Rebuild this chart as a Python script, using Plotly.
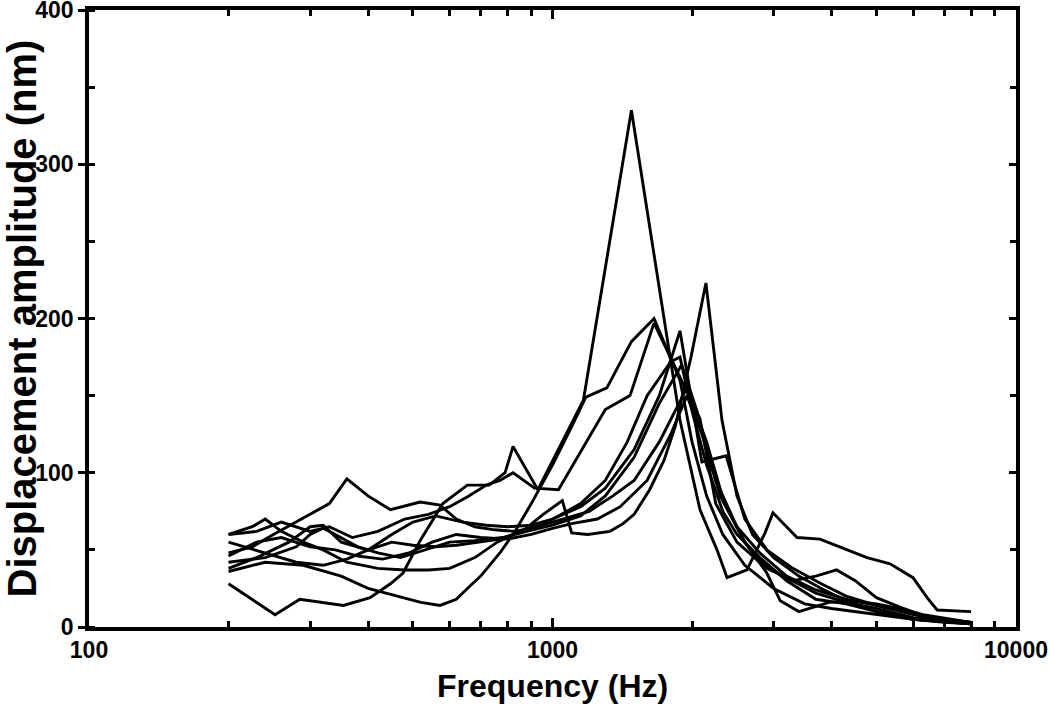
import plotly.graph_objects as go

f1 = [200, 252, 285, 354, 404, 447, 476, 518, 580, 655, 730, 790, 822, 930, 1166, 1480, 1884, 2081, 2264, 2380, 2628, 2874, 2990, 3370, 3776, 4174, 4770, 5349, 5995, 6430, 6760, 8000]
a1 = [28, 8, 18, 14, 19, 28, 35, 56, 80, 92, 92, 100, 117, 89, 147, 335, 134, 76, 50, 32, 37, 61, 74, 58, 57, 52, 45, 41, 32, 19, 11, 10]

f2 = [200, 230, 270, 300, 320, 350, 400, 450, 500, 560, 620, 700, 770, 860, 955, 1050, 1100, 1190, 1330, 1420, 1500, 1620, 1740, 1840, 1990, 2143, 2321, 2500, 2700, 3000, 3400, 3800, 4300, 5000, 6000, 7000, 8000]
a2 = [38, 45, 55, 65, 66, 55, 50, 55, 53, 52, 53, 55, 57, 62, 73, 82, 61, 60, 62, 67, 73, 89, 108, 130, 175, 223, 134, 85, 60, 45, 33, 25, 17, 10, 5, 3, 2]

f3 = [200, 240, 290, 350, 400, 460, 520, 572, 620, 655, 700, 770, 830, 900, 1000, 1100, 1180, 1310, 1480, 1656, 1884, 2000, 2150, 2330, 2600, 3000, 3500, 4000, 5000, 6000, 8000]
a3 = [36, 42, 40, 33, 25, 20, 16, 14, 18, 25, 33, 48, 62, 80, 105, 130, 149, 155, 185, 200, 160, 120, 85, 60, 40, 25, 15, 12, 8, 5, 2]

f4 = [200, 230, 260, 300, 330, 370, 420, 480, 540, 600, 660, 720, 770, 822, 915, 1030, 1300, 1470, 1656, 2080, 2250, 2500, 2800, 3200, 3700, 4300, 5000, 6000, 8000]
a4 = [60, 62, 68, 62, 65, 58, 62, 70, 73, 78, 85, 92, 95, 100, 90, 89, 141, 150, 197, 135, 80, 55, 42, 32, 22, 16, 12, 6, 3]

f5 = [200, 225, 250, 280, 300, 330, 360, 400, 447, 518, 572, 620, 680, 750, 830, 930, 1030, 1150, 1300, 1450, 1600, 1800, 1884, 2000, 2150, 2330, 2500, 2800, 3200, 3700, 4300, 5000, 6000, 8000]
a5 = [48, 52, 60, 68, 73, 80, 96, 85, 76, 81, 79, 70, 65, 63, 62, 65, 72, 80, 95, 120, 150, 172, 175, 140, 105, 75, 60, 45, 30, 18, 15, 10, 5, 2]

f6 = [200, 240, 280, 320, 360, 400, 450, 500, 560, 640, 720, 800, 900, 1000, 1150, 1300, 1500, 1700, 1884, 2100, 2370, 2600, 2900, 3300, 3800, 4300, 5000, 6000, 7000, 8000]
a6 = [55, 48, 42, 40, 44, 50, 60, 68, 72, 68, 66, 65, 66, 70, 78, 90, 115, 150, 192, 107, 111, 70, 50, 38, 28, 20, 14, 8, 5, 3]

f7 = [200, 240, 280, 300, 320, 340, 380, 420, 470, 530, 600, 680, 780, 880, 1000, 1150, 1300, 1500, 1700, 1900, 2050, 2250, 2500, 2800, 3200, 3700, 4300, 5000, 5700, 6500, 8000]
a7 = [42, 45, 52, 60, 64, 60, 52, 48, 45, 50, 55, 56, 58, 62, 66, 72, 85, 110, 145, 170, 140, 95, 65, 48, 33, 24, 18, 14, 10, 6, 3]

f8 = [200, 225, 240, 260, 290, 320, 360, 420, 480, 540, 600, 680, 760, 850, 950, 1050, 1200, 1350, 1500, 1700, 1950, 2150, 2350, 2600, 2900, 3100, 3400, 3950, 4400, 5000, 5600, 6300, 7200, 8000]
a8 = [60, 65, 70, 62, 55, 50, 42, 38, 37, 37, 38, 45, 55, 62, 66, 70, 75, 85, 95, 120, 155, 120, 80, 55, 35, 17, 10, 16, 17, 15, 12, 8, 5, 3]

f9 = [200, 230, 260, 300, 340, 380, 430, 490, 550, 620, 700, 800, 900, 1000, 1100, 1250, 1400, 1600, 1800, 1950, 2100, 2300, 2600, 2900, 3300, 3700, 4100, 4500, 5000, 5600, 6500, 8000]
a9 = [46, 55, 58, 52, 50, 46, 44, 48, 55, 60, 58, 57, 60, 64, 67, 70, 78, 95, 125, 150, 125, 85, 55, 38, 30, 33, 37, 30, 19, 13, 6, 2]

freqs = [f1, f2, f3, f4, f5, f6, f7, f8, f9]
amps = [a1, a2, a3, a4, a5, a6, a7, a8, a9]

x_major = [100, 1000, 10000]
x_minor = [200, 300, 400, 500, 600, 700, 800, 900, 2000, 3000, 4000, 5000, 6000, 7000, 8000, 9000]

bold = dict(family='Liberation Sans, Arial, sans-serif', color='black', weight='bold')

fig = go.Figure()
for f, a in zip(freqs, amps):
    fig.add_trace(go.Scatter(x=f, y=a, mode='lines', line=dict(color='black', width=2.9), showlegend=False))
# empty trace so the right-hand mirror axis gets drawn
fig.add_trace(go.Scatter(x=[], y=[], yaxis='y2', showlegend=False))

fig.update_layout(
    width=1050, height=711,
    margin=dict(l=89, r=34, t=10, b=84),
    plot_bgcolor='white', paper_bgcolor='white',
    xaxis=dict(type='log', range=[2, 4], showgrid=False, zeroline=False, automargin=False,
               showline=True, linecolor='black', linewidth=3.5, mirror='ticks',
               ticks='inside', ticklen=9, tickwidth=3, tickcolor='black',
               tickvals=x_major, ticktext=[str(v) for v in x_major],
               tickfont=dict(size=23, **bold), ticklabeloverflow='allow',
               minor=dict(tickvals=x_minor, ticks='inside', ticklen=6, tickwidth=3, tickcolor='black')),
    yaxis=dict(range=[0, 400], showgrid=False, zeroline=False, automargin=False,
               showline=True, linecolor='black', linewidth=3.5, mirror=True,
               ticks='outside', ticklen=7, tickwidth=3, tickcolor='black', dtick=100,
               tickfont=dict(size=23, **bold), ticklabeloverflow='allow',
               minor=dict(dtick=50, ticks='inside', ticklen=6, tickwidth=3, tickcolor='black')),
    yaxis2=dict(range=[0, 400], overlaying='y', side='right', showgrid=False, zeroline=False,
                automargin=False, showline=False, showticklabels=False, ticks='inside', ticklen=7,
                tickwidth=3, tickcolor='black', dtick=100,
                minor=dict(dtick=50, ticks='inside', ticklen=6, tickwidth=3, tickcolor='black')),
    annotations=[
        dict(text='Frequency (Hz)', xref='paper', yref='paper', x=0.5, y=0, yshift=-59,
             xanchor='center', yanchor='middle', showarrow=False, font=dict(size=32, **bold)),
        dict(text='Displacement amplitude (nm)', xref='paper', yref='paper', x=0, y=0.5, xshift=-68,
             xanchor='center', yanchor='middle', textangle=-90, showarrow=False, font=dict(size=40, **bold)),
    ],
)

# the page's default 8px body margin would push the figure off the window edges
fig.write_html('out.html', config={'displayModeBar': False},
               post_script="document.body.style.margin = '0px';")
